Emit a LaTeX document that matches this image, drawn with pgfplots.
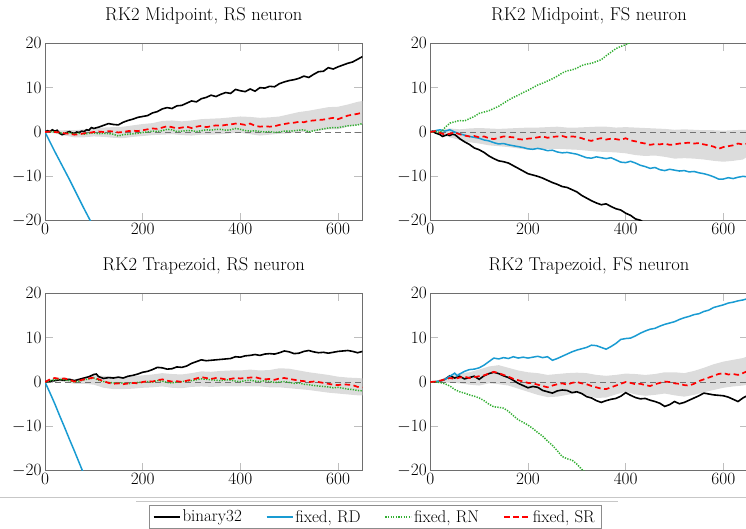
\documentclass[border=0pt]{standalone}
\usepackage{pgfplots}
\pgfplotsset{compat=1.18}
\definecolor{rdblue}{RGB}{25,155,210}
\definecolor{rngreen}{RGB}{50,175,50}
\definecolor{bandgray}{RGB}{220,220,220}
\definecolor{framegray}{RGB}{110,110,110}
\definecolor{tickgray}{RGB}{190,190,190}
\pgfplotsset{
  myax/.style={scale only axis, width=317.5pt, height=177.4pt,
    xmin=0, xmax=650, ymin=-20, ymax=20,
    xtick={0,200,400,600}, ytick={-20,-10,0,10,20},
    axis line style={framegray, line width=0.9pt},
    major tick style={tickgray, line width=0.9pt}, major tick length=8pt,
    tick label style={font=\fontsize{17.28}{20}\selectfont},
    xticklabel style={yshift=1pt},
    title style={font=\fontsize{18.5}{21}\selectfont, at={(0.5,1)}, anchor=base, yshift=16.6pt},
    anchor=north west},
  bin/.style={black, line width=1.6pt, forget plot},
  rd/.style={rdblue, line width=1.5pt, forget plot},
  rn/.style={rngreen, line width=1.5pt, dash pattern=on 1.3pt off 1.3pt, forget plot},
  sr/.style={red, line width=1.7pt, dash pattern=on 5.5pt off 3.5pt, forget plot},
  band/.style={fill=bandgray, draw=none, forget plot},
  zero/.style={black!55, line width=1pt, dash pattern=on 6pt off 4pt, forget plot},
}
\begin{document}
\begin{tikzpicture}
%================ A: Midpoint RS
\begin{axis}[myax, at={(45pt,-43.3pt)}, title={RK2 Midpoint, RS neuron}]
\addplot[band] coordinates {(0,0) (20,0.3) (40,0.4) (60,0.4) (80,0.6) (100,0.8) (120,1.0) (140,1.1) (160,1.2) (180,1.5) (200,1.8) (220,2.0) (240,2.5) (260,2.6) (280,2.4) (300,2.6) (320,2.9) (340,3.0) (360,3.1) (380,3.3) (400,3.5) (420,3.4) (440,3.2) (460,3.3) (480,3.5) (500,4.0) (520,4.5) (540,4.8) (560,5.2) (580,5.6) (600,5.7) (620,6.2) (640,6.8) (650,7.0)
 (650,1.8) (640,1.6) (620,1.2) (600,0.6) (580,0.6) (560,0.3) (540,0.1) (520,0.0) (500,-0.3) (480,-0.4) (460,-0.6) (440,-0.8) (420,-0.5) (400,-0.2) (380,-0.3) (360,-0.5) (340,-0.6) (320,-0.6) (300,-0.8) (280,-0.7) (260,-0.5) (240,-0.6) (220,-0.7) (200,-0.9) (180,-1.1) (160,-1.4) (140,-1.3) (120,-1.1) (100,-1.0) (80,-1.2) (60,-1.2) (40,-0.8) (20,-0.3) (0,0)};
\addplot[zero] coordinates {(0,0) (650,0)};
\addplot[bin] coordinates {(0,0) (5,0.3) (10,0.1) (15,0.5) (20,0.2) (25,0.4) (30,-0.3) (35,-0.6) (40,-0.4) (45,-0.1) (50,0.1) (55,-0.2) (60,-0.3) (65,0) (70,-0.1) (75,0.2) (80,0.1) (85,0.5) (90,0.4) (95,1.0) (100,0.8) (110,1.1) (120,1.5) (130,1.9) (140,1.7) (150,1.6) (160,2.2) (170,2.6) (180,2.9) (190,3.3) (200,3.5) (210,3.7) (220,4.3) (230,4.6) (240,5.2) (250,5.5) (260,5.3) (270,5.9) (280,6.0) (290,6.5) (300,7.0) (310,6.8) (320,7.5) (330,7.8) (340,8.3) (350,8.0) (360,8.5) (370,8.9) (380,8.7) (390,9.6) (400,9.3) (410,9.1) (420,9.7) (430,9.2) (440,10.0) (450,9.9) (460,10.3) (470,10.2) (480,10.9) (490,11.3) (500,11.6) (510,11.8) (520,12.1) (530,12.6) (540,12.3) (550,13.0) (560,13.6) (570,13.7) (580,14.5) (590,14.2) (600,14.7) (610,15.1) (620,15.5) (630,15.8) (640,16.4) (650,17.0)};
\addplot[rd] coordinates {(0,0) (10,-2.2) (20,-4.4) (30,-6.5) (40,-8.6) (50,-10.7) (60,-12.9) (70,-15.1) (80,-17.3) (90,-19.4) (100,-21.5)};
\addplot[rn] coordinates {(0,0) (10,0.1) (20,0) (30,-0.2) (40,-0.3) (50,-0.2) (60,-0.4) (70,-0.3) (80,-0.5) (90,-0.3) (100,-0.2) (110,-0.4) (120,-0.3) (130,-0.4) (140,-0.5) (150,-0.9) (160,-0.6) (170,-0.5) (180,-0.4) (190,-0.3) (200,-0.1) (210,0) (220,0.2) (230,0.1) (240,0.3) (250,0.6) (260,0.5) (270,0.1) (280,0.2) (290,0.3) (300,0.3) (310,0.1) (320,0.3) (330,0.5) (340,0.4) (350,0.6) (360,0.6) (370,0.4) (380,0.5) (390,0.8) (400,0.6) (410,0.3) (420,0.2) (430,0.3) (440,0.1) (450,0.0) (460,0.1) (470,-0.1) (480,0.0) (490,0.2) (500,0.2) (510,0.3) (520,0.4) (530,0.5) (540,0.0) (550,0.3) (560,0.5) (570,0.7) (580,0.9) (590,1.0) (600,1.0) (610,1.2) (620,1.4) (630,1.5) (640,1.6) (650,1.9)};
\addplot[sr] coordinates {(0,0) (10,0.1) (20,0) (30,-0.1) (40,-0.3) (50,-0.4) (60,-0.6) (70,-0.5) (80,-0.3) (90,-0.2) (100,0) (110,0.1) (120,0.0) (130,0.2) (140,0.1) (150,-0.1) (160,0.0) (170,0.2) (180,0.3) (190,0.2) (200,0.4) (210,0.6) (220,0.8) (230,0.7) (240,1.0) (250,1.3) (260,1.1) (270,0.8) (280,1.0) (290,1.2) (300,0.9) (310,1.2) (320,1.4) (330,1.1) (340,1.3) (350,1.5) (360,1.4) (370,1.6) (380,1.7) (390,1.9) (400,1.8) (410,1.6) (420,1.9) (430,1.4) (440,1.2) (450,1.3) (460,1.2) (470,1.3) (480,1.6) (490,1.8) (500,2.0) (510,2.1) (520,2.3) (530,2.2) (540,2.5) (550,2.6) (560,2.7) (570,2.8) (580,3.0) (590,3.2) (600,2.9) (610,3.3) (620,3.7) (630,3.9) (640,4.1) (650,4.4)};
\end{axis}
%================ B: Midpoint FS
\begin{axis}[myax, at={(430.3pt,-43.3pt)}, title={RK2 Midpoint, FS neuron}]
\addplot[band] coordinates {(0,0) (20,0.4) (40,0.8) (60,0.6) (80,0.8) (100,0.9) (120,0.8) (140,0.7) (160,0.8) (180,0.9) (200,1.0) (220,1.0) (240,1.1) (260,1.2) (280,1.0) (300,1.0) (320,1.1) (340,1.2) (360,1.2) (380,1.0) (400,1.1) (420,1.0) (440,0.9) (460,0.8) (480,0.7) (500,0.5) (520,0.6) (540,0.5) (560,0.4) (580,0.4) (600,0.3) (620,0.4) (640,0.5) (650,0.5)
 (650,-5.5) (640,-6.2) (620,-6.5) (600,-6.7) (580,-6.5) (560,-6.2) (540,-6.0) (520,-5.9) (500,-6.0) (480,-5.6) (460,-5.3) (440,-5.4) (420,-5.2) (400,-4.8) (380,-4.6) (360,-4.5) (340,-4.4) (320,-4.2) (300,-4.0) (280,-3.9) (260,-3.8) (240,-3.8) (220,-3.8) (200,-4.0) (180,-3.7) (160,-3.4) (140,-3.2) (120,-3.0) (100,-2.6) (80,-2.3) (60,-1.8) (40,-1.2) (20,-0.5) (0,0)};
\addplot[zero] coordinates {(0,0) (650,0)};
\addplot[bin] coordinates {(0,0) (5,0.2) (10,-0.2) (15,-0.4) (20,-0.6) (25,-1.0) (30,-0.8) (35,-0.6) (40,-0.8) (45,-0.5) (50,-0.6) (55,-1.0) (60,-1.5) (70,-2.2) (80,-2.8) (90,-3.6) (100,-4.0) (110,-4.6) (120,-5.4) (130,-6.0) (140,-6.5) (150,-6.7) (160,-7.0) (170,-7.6) (180,-8.2) (190,-8.8) (200,-9.4) (210,-9.7) (220,-10.0) (230,-10.4) (240,-10.9) (250,-11.4) (260,-11.8) (270,-12.3) (280,-12.5) (290,-13.0) (300,-13.5) (310,-14.3) (320,-14.9) (330,-15.5) (340,-16.0) (350,-16.4) (360,-16.2) (370,-16.8) (380,-17.3) (390,-17.6) (400,-18.3) (410,-18.8) (420,-19.6) (430,-19.9) (440,-20.6)};
\addplot[rd] coordinates {(0,0) (10,0.3) (20,0.5) (30,0.2) (40,0.5) (50,0.0) (60,-0.4) (70,-0.7) (80,-1.0) (90,-1.2) (100,-1.4) (110,-1.8) (120,-2.0) (130,-2.4) (140,-2.7) (150,-2.6) (160,-2.9) (170,-3.1) (180,-3.3) (190,-3.5) (200,-3.8) (210,-3.9) (220,-3.7) (230,-3.9) (240,-4.2) (250,-4.1) (260,-4.5) (270,-4.7) (280,-4.6) (290,-4.8) (300,-5.0) (310,-5.4) (320,-5.8) (330,-5.9) (340,-5.6) (350,-5.8) (360,-6.0) (370,-5.8) (380,-6.3) (390,-6.8) (400,-6.9) (410,-6.6) (420,-7.0) (430,-7.5) (440,-7.8) (450,-8.2) (460,-8.0) (470,-8.5) (480,-8.7) (490,-8.4) (500,-8.6) (510,-8.8) (520,-8.7) (530,-9.0) (540,-8.9) (550,-9.2) (560,-9.4) (570,-9.7) (580,-10.1) (590,-10.6) (600,-10.6) (610,-10.3) (620,-10.5) (630,-10.2) (640,-10.0) (650,-10.1)};
\addplot[rn] coordinates {(0,0) (10,0.1) (20,-0.1) (25,0.3) (30,1.0) (35,1.5) (40,2.0) (50,2.3) (60,2.6) (70,2.5) (80,3.0) (90,3.5) (100,4.2) (110,4.5) (120,4.8) (130,5.3) (140,5.8) (150,6.5) (160,7.2) (170,7.8) (180,8.3) (190,8.9) (200,9.4) (210,10.0) (220,10.6) (230,11.0) (240,11.5) (250,12.0) (260,12.6) (270,13.3) (280,13.8) (290,14.0) (300,14.4) (310,15.0) (320,15.3) (330,15.5) (340,15.9) (350,16.3) (360,17.2) (370,18.0) (380,18.8) (390,19.3) (400,19.7) (410,20.2) (420,20.8)};
\addplot[sr] coordinates {(0,0) (10,0.2) (20,-0.2) (30,-0.6) (40,-0.4) (50,-0.1) (60,-0.5) (70,-0.8) (80,-1.0) (90,-0.9) (100,-1.2) (110,-1.0) (120,-1.4) (130,-1.6) (140,-1.3) (150,-1.0) (160,-1.1) (170,-1.2) (180,-1.6) (190,-1.7) (200,-1.5) (210,-1.4) (220,-1.2) (230,-1.0) (240,-1.3) (250,-1.1) (260,-1.0) (270,-0.9) (280,-1.2) (290,-1.0) (300,-1.1) (310,-1.4) (320,-1.8) (330,-2.0) (340,-1.6) (350,-1.4) (360,-1.7) (370,-1.5) (380,-1.6) (390,-1.8) (400,-1.4) (410,-1.9) (420,-2.1) (430,-2.4) (440,-2.6) (450,-2.9) (460,-2.7) (470,-2.8) (480,-2.6) (490,-2.9) (500,-2.8) (510,-2.6) (520,-2.5) (530,-2.4) (540,-2.6) (550,-2.5) (560,-2.8) (570,-3.0) (580,-3.3) (590,-3.8) (600,-3.4) (610,-3.2) (620,-3.0) (630,-2.6) (640,-2.8) (650,-2.6)};
\end{axis}
%================ C: Trapezoid RS
\begin{axis}[myax, at={(45pt,-293.3pt)}, title={RK2 Trapezoid, RS neuron},
  legend columns=4,
  legend style={at={(1.039,-0.192)}, anchor=north, draw=black!45, line width=0.6pt,
    font=\fontsize{17}{20}\selectfont, inner xsep=4pt, inner ysep=3pt,
    /tikz/every even column/.append style={column sep=22pt}},
  legend image code/.code={\draw[#1] (0pt,0pt) -- (26pt,0pt);}]
\addlegendimage{black, line width=1.6pt}
\addlegendentry{binary32}
\addlegendimage{rdblue, line width=1.5pt}
\addlegendentry{fixed, RD}
\addlegendimage{rngreen, line width=1.5pt, dash pattern=on 1.3pt off 1.3pt}
\addlegendentry{fixed, RN}
\addlegendimage{red, line width=1.7pt, dash pattern=on 5.5pt off 3.5pt}
\addlegendentry{fixed, SR}
\addplot[band] coordinates {(0,0) (20,1.0) (40,1.0) (60,0.6) (80,1.0) (100,1.5) (120,1.4) (140,1.2) (160,1.1) (180,1.3) (200,1.5) (220,1.7) (240,2.0) (260,1.8) (280,1.7) (300,2.0) (320,2.4) (340,2.3) (360,2.5) (380,2.6) (400,2.6) (420,2.8) (440,2.6) (460,2.7) (480,3.1) (500,3.0) (520,2.6) (540,2.2) (560,1.9) (580,1.6) (600,1.2) (620,1.0) (640,0.9) (650,0.8)
 (650,-3.0) (640,-3.0) (620,-2.8) (600,-2.6) (580,-2.4) (560,-2.1) (540,-1.8) (520,-1.6) (500,-1.4) (480,-1.2) (460,-1.2) (440,-1.0) (420,-1.0) (400,-1.0) (380,-1.0) (360,-1.0) (340,-1.1) (320,-1.0) (300,-1.1) (280,-1.4) (260,-1.3) (240,-1.0) (220,-1.2) (200,-1.3) (180,-1.5) (160,-1.6) (140,-1.6) (120,-1.3) (100,-0.6) (80,-0.4) (60,-0.4) (40,0.0) (20,0.2) (0,0)};
\addplot[zero] coordinates {(0,0) (650,0)};
\addplot[bin] coordinates {(0,0) (10,0.2) (20,0.3) (30,0.5) (40,0.4) (50,0.6) (60,0.3) (70,0.6) (80,0.9) (90,1.2) (100,1.7) (105,1.8) (110,1.2) (120,0.8) (130,1.0) (140,0.9) (150,1.1) (160,0.9) (170,1.3) (180,1.5) (190,1.8) (200,2.2) (210,2.4) (220,2.8) (230,3.3) (240,3.2) (250,2.9) (260,3.0) (270,3.4) (280,3.3) (290,3.6) (300,4.2) (310,4.6) (320,5.0) (330,4.8) (340,4.9) (350,5.0) (360,5.1) (370,5.2) (380,5.3) (390,5.7) (400,5.6) (410,5.9) (420,6.0) (430,6.2) (440,6.0) (450,6.3) (460,6.4) (470,6.3) (480,6.6) (490,7.0) (500,6.8) (510,6.4) (520,6.5) (530,6.9) (540,7.1) (550,6.8) (560,6.6) (570,6.7) (580,6.5) (590,6.7) (600,6.9) (610,7.0) (620,7.1) (630,6.9) (640,6.6) (650,6.9)};
\addplot[rd] coordinates {(0,0) (10,-2.4) (20,-4.9) (30,-7.6) (40,-10.2) (50,-12.9) (60,-15.5) (70,-18.2) (80,-20.9)};
\addplot[rn] coordinates {(0,0) (10,0.3) (20,0.5) (30,0.6) (40,0.5) (50,0.3) (60,0.0) (70,0.2) (80,0.5) (90,0.7) (100,0.9) (110,0.4) (120,0.1) (130,-0.1) (140,-0.2) (150,-0.3) (160,-0.2) (170,-0.4) (180,-0.2) (190,-0.1) (200,0.0) (210,0.1) (220,0.0) (230,0.3) (240,0.2) (250,-0.1) (260,-0.2) (270,0.0) (280,0.1) (290,0.2) (300,0.3) (310,0.5) (320,0.7) (330,0.6) (340,0.5) (350,0.4) (360,0.3) (370,0.5) (380,0.4) (390,0.2) (400,0.1) (410,0.3) (420,0.4) (430,0.2) (440,0.1) (450,0.3) (460,0.1) (470,-0.1) (480,0.0) (490,0.1) (500,-0.1) (510,-0.3) (520,-0.2) (530,-0.5) (540,-0.6) (550,-0.8) (560,-0.9) (570,-1.0) (580,-1.1) (590,-1.3) (600,-1.2) (610,-1.4) (620,-1.6) (630,-1.7) (640,-1.9) (650,-2.0)};
\addplot[sr] coordinates {(0,0) (10,0.6) (20,0.9) (30,0.7) (40,0.8) (50,0.5) (60,0.1) (70,0.3) (80,0.6) (90,0.8) (100,1.0) (110,0.6) (120,0.2) (130,-0.2) (140,-0.4) (150,-0.3) (160,-0.5) (170,-0.3) (180,-0.2) (190,-0.3) (200,0.0) (210,0.2) (220,0.1) (230,0.4) (240,0.6) (250,0.3) (260,0.1) (270,0.2) (280,0.0) (290,0.3) (300,0.5) (310,0.8) (320,1.1) (330,0.9) (340,0.7) (350,0.9) (360,0.8) (370,0.6) (380,0.7) (390,0.9) (400,0.8) (410,0.9) (420,1.0) (430,1.1) (440,0.8) (450,0.6) (460,0.7) (470,0.5) (480,0.8) (490,0.9) (500,0.7) (510,0.5) (520,0.3) (530,0.2) (540,0.0) (550,0.1) (560,0.0) (570,-0.2) (580,-0.4) (590,-0.6) (600,-0.7) (610,-0.5) (620,-0.6) (630,-0.7) (640,-1.1) (650,-1.2)};
\end{axis}
%================ D: Trapezoid FS
\begin{axis}[myax, at={(430.3pt,-293.3pt)}, title={RK2 Trapezoid, FS neuron}]
\addplot[band] coordinates {(0,0) (20,0.5) (40,1.5) (60,2.0) (80,2.2) (100,2.8) (120,3.5) (140,3.8) (160,3.2) (180,2.6) (200,2.2) (220,2.0) (240,1.6) (260,1.8) (280,2.0) (300,2.1) (320,2.0) (340,1.6) (360,1.4) (380,1.6) (400,1.9) (420,1.8) (440,1.6) (460,1.8) (480,2.2) (500,2.2) (520,2.0) (540,2.5) (560,3.2) (580,4.0) (600,4.6) (620,5.0) (640,5.4) (650,5.8)
 (650,-0.6) (640,-0.8) (620,-1.0) (600,-1.3) (580,-1.8) (560,-2.3) (540,-2.9) (520,-3.3) (500,-3.0) (480,-2.6) (460,-2.9) (440,-3.1) (420,-2.8) (400,-2.2) (380,-2.8) (360,-3.5) (340,-3.6) (320,-3.0) (300,-2.5) (280,-2.9) (260,-3.3) (240,-3.4) (220,-2.9) (200,-2.2) (180,-1.5) (160,-0.8) (140,-0.5) (120,-0.3) (100,-0.8) (80,-0.6) (60,-0.3) (40,-0.2) (20,0.0) (0,0)};
\addplot[zero] coordinates {(0,0) (650,0)};
\addplot[bin] coordinates {(0,0) (10,0.0) (20,0.2) (30,0.6) (40,1.4) (50,0.9) (60,1.3) (70,0.7) (80,1.0) (90,1.3) (100,0.6) (110,1.4) (120,1.9) (130,2.2) (140,1.9) (150,1.4) (160,1.0) (170,0.4) (180,-0.3) (190,-0.8) (200,-1.3) (210,-1.0) (220,-1.2) (230,-1.9) (240,-2.2) (250,-2.5) (260,-2.0) (270,-1.8) (280,-1.9) (290,-2.4) (300,-2.2) (310,-2.6) (320,-3.3) (330,-3.6) (340,-4.2) (350,-4.6) (360,-4.2) (370,-3.9) (380,-3.7) (390,-3.2) (400,-2.4) (410,-3.0) (420,-3.5) (430,-3.8) (440,-3.7) (450,-4.1) (460,-4.4) (470,-4.8) (480,-5.5) (490,-5.1) (500,-4.4) (510,-4.9) (520,-4.6) (530,-4.1) (540,-3.6) (550,-3.1) (560,-2.5) (570,-2.7) (580,-2.9) (590,-3.0) (600,-3.1) (610,-3.4) (620,-3.9) (630,-4.4) (640,-3.6) (650,-3.0)};
\addplot[rd] coordinates {(0,0) (10,0.1) (20,0.2) (30,0.6) (40,1.3) (50,2.0) (55,1.4) (60,1.8) (70,2.4) (80,2.8) (90,2.9) (100,3.2) (110,3.8) (120,4.6) (130,5.4) (140,5.2) (150,5.5) (160,5.3) (170,5.7) (180,5.4) (190,5.6) (200,5.4) (210,5.6) (220,5.8) (230,5.5) (240,5.7) (250,4.9) (260,5.3) (270,5.8) (280,6.3) (290,6.8) (300,7.2) (310,7.5) (320,7.8) (330,8.3) (340,8.2) (350,7.8) (360,7.4) (370,8.0) (380,8.7) (390,9.6) (400,9.8) (410,9.9) (420,10.4) (430,11.0) (440,11.5) (450,11.9) (460,12.1) (470,12.6) (480,13.0) (490,13.3) (500,13.6) (510,14.1) (520,14.5) (530,14.8) (540,15.2) (550,15.4) (560,15.9) (570,16.2) (580,16.8) (590,17.1) (600,17.4) (610,17.8) (620,18.0) (630,18.3) (640,18.5) (650,18.8)};
\addplot[rn] coordinates {(0,0) (10,0) (20,-0.1) (30,-0.4) (40,-0.9) (50,-1.7) (60,-2.2) (70,-2.5) (80,-2.9) (90,-3.2) (100,-3.6) (110,-4.2) (120,-5.0) (130,-5.6) (140,-5.7) (150,-5.9) (160,-6.6) (170,-7.6) (180,-8.5) (190,-9.1) (200,-9.7) (210,-10.5) (220,-11.4) (230,-12.2) (240,-13.3) (250,-14.3) (260,-15.5) (270,-16.8) (280,-17.3) (290,-17.6) (300,-18.5) (310,-19.7) (320,-20.6)};
\addplot[sr] coordinates {(0,0) (10,0.1) (20,0.3) (30,0.6) (40,0.9) (50,0.7) (60,1.0) (70,1.2) (80,0.9) (90,1.1) (100,1.3) (110,1.5) (120,1.9) (130,2.3) (140,2.0) (150,1.6) (160,1.2) (170,0.7) (180,0.4) (190,0.1) (200,-0.2) (210,-0.3) (220,-0.6) (230,-0.9) (240,-1.2) (250,-0.8) (260,-0.5) (270,-0.3) (280,-0.6) (290,-0.2) (300,0.0) (310,-0.3) (320,-0.5) (330,-0.9) (340,-1.2) (350,-1.5) (360,-1.6) (370,-1.2) (380,-0.8) (390,-0.4) (400,0.0) (410,-0.2) (420,-0.5) (430,-0.4) (440,-0.7) (450,-0.9) (460,-0.5) (470,-0.2) (480,0.1) (490,0.0) (500,-0.3) (510,-0.4) (520,-0.7) (530,-0.8) (540,-0.4) (550,0.2) (560,0.6) (570,1.0) (580,1.4) (590,1.8) (600,2.0) (610,1.7) (620,1.8) (630,1.6) (640,2.0) (650,2.5)};
\end{axis}
\draw[black!22, line width=0.8pt] (0pt,-497.5pt) -- (746pt,-497.5pt);
\draw[black!22, line width=0.6pt] (136pt,-501pt) -- (618pt,-501pt);
\pgfresetboundingbox
\path[use as bounding box] (0pt,0pt) rectangle (746pt,-528pt);
\end{tikzpicture}
\end{document}
